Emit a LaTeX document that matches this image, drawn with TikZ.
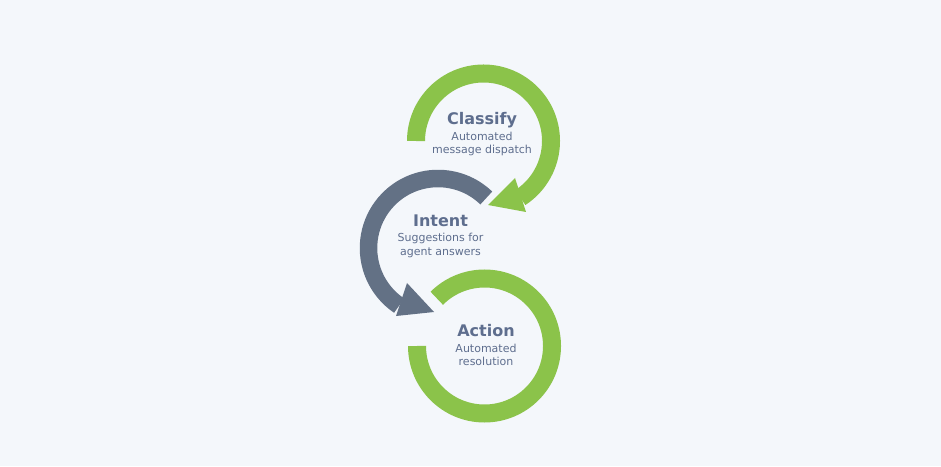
\documentclass[tikz,border=0pt]{standalone}
\usepackage{fontspec}
\setmainfont{DejaVu Sans}
\definecolor{bg}{HTML}{F4F7FB}
\definecolor{ringgreen}{HTML}{8BC34A}
\definecolor{ringgray}{HTML}{637185}
\definecolor{txt}{HTML}{5E6E8E}
\begin{document}
\begin{tikzpicture}[x=1pt,y=1pt,
  title/.style={font=\bfseries\fontsize{16}{19}\selectfont, text=txt, anchor=base, inner sep=0pt},
  sub/.style={font=\fontsize{11}{13}\selectfont, text=txt, anchor=base, inner sep=0pt},
  greenring/.style={draw=ringgreen, line width=18pt},
  grayring/.style={draw=ringgray, line width=17.5pt}]
\fill[bg] (0,0) rectangle (941,466);
\useasboundingbox (0,0) rectangle (941,466);
\coordinate (c1) at (483.5,325);
\coordinate (c2) at (438,218);
\coordinate (c3) at (484.5,120);
% Classify ring
\draw[greenring] ([shift={(180:67.5)}]c1) arc[start angle=180, end angle=-57, radius=67.5];
\fill[ringgreen] (515,288) -- (488,261) -- (526,254) -- cycle;
% Intent ring
\draw[grayring] ([shift={(46:69.5)}]c2) arc[start angle=46, end angle=236, radius=69.5];
\fill[ringgray] (407,183) -- (434,154) -- (396,150) -- cycle;
% Action ring
\draw[greenring] ([shift={(180:67.5)}]c3) arc[start angle=180, end angle=495, radius=67.5];
% Texts
\node[title] (t1) at (482,341) {Classify};
\node[sub] (s1a) at (482,325.7) {Automated};
\node[sub] (s1b) at (482,312) {message dispatch};
\node[title] (t2) at (440.5,239.3) {Intent};
\node[sub] (s2a) at (440.5,224) {Suggestions for};
\node[sub] (s2b) at (440.5,210.3) {agent answers};
\node[title] (t3) at (486,129.3) {Action};
\node[sub] (s3a) at (486,114) {Automated};
\node[sub] (s3b) at (486,100.3) {resolution};
\end{tikzpicture}
\end{document}
